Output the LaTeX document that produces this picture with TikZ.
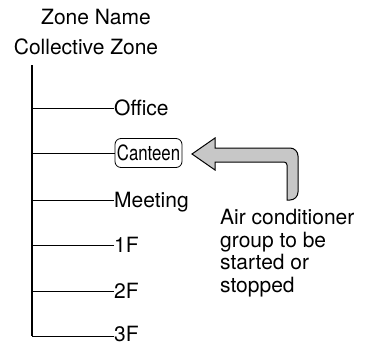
\documentclass[tikz,border=0pt]{standalone}
\usepackage{fontspec}
\usepackage{graphicx}
\setmainfont{TeX Gyre Heros}
\begin{document}
\begin{tikzpicture}[x=1pt,y=-1pt,
  txt/.style={inner sep=0pt, font=\fontsize{21}{22.7}\selectfont},
  lbl/.style={txt, anchor=base west},
  branch/.style={line width=1pt},
  trunk/.style={line width=1.3pt},
  boxed/.style={draw, line width=0.8pt, rounded corners=6pt, inner sep=0pt, minimum width=67pt, minimum height=29pt, font=\fontsize{21}{22.7}\selectfont},
  arrowfill/.style={draw, line width=1pt, fill=black!22, line join=miter}
]
\useasboundingbox (0,0) rectangle (366,345);
\node[txt, anchor=base] (zn) at (96,25) {Zone Name};
\node[txt, anchor=base] (cz) at (86,55) {Collective Zone};
\coordinate (top) at (32,65);
\coordinate (bot) at (32,336);
\node[lbl] (office) at (114,115.5) {Office};
\node[boxed] (canteen) at (148.5,153) {\scalebox{0.8}[1]{Canteen}};
\node[lbl] (meeting) at (114,207.5) {Meeting};
\node[lbl] (f1) at (114,252) {1F};
\node[lbl] (f2) at (114,298) {2F};
\node[lbl] (f3) at (114,341.5) {3F};
\draw[trunk] (top) -- (bot);
\draw[branch] (office.west |- 0,108) -- (32,108);
\draw[branch] (canteen.west) -- (32,153);
\draw[branch] (meeting.west |- 0,200) -- (32,200);
\draw[branch] (f1.west |- 0,245) -- (32,245);
\draw[branch] (f2.west |- 0,291) -- (32,291);
\draw[branch] (f3.west |- 0,336) -- (bot);
\draw[arrowfill] (192,154) -- (215,138) -- (215,148) [rounded corners=8pt] -- (298,148) -- (298,200) [sharp corners] -- (287,200) [rounded corners=3pt] -- (287,162) [sharp corners] -- (215,162) -- (215,170) -- cycle;
\node[txt, anchor=north west, align=left] (note) at (220,209) {Air conditioner\\group to be\\started or\\stopped};
\end{tikzpicture}
\end{document}
